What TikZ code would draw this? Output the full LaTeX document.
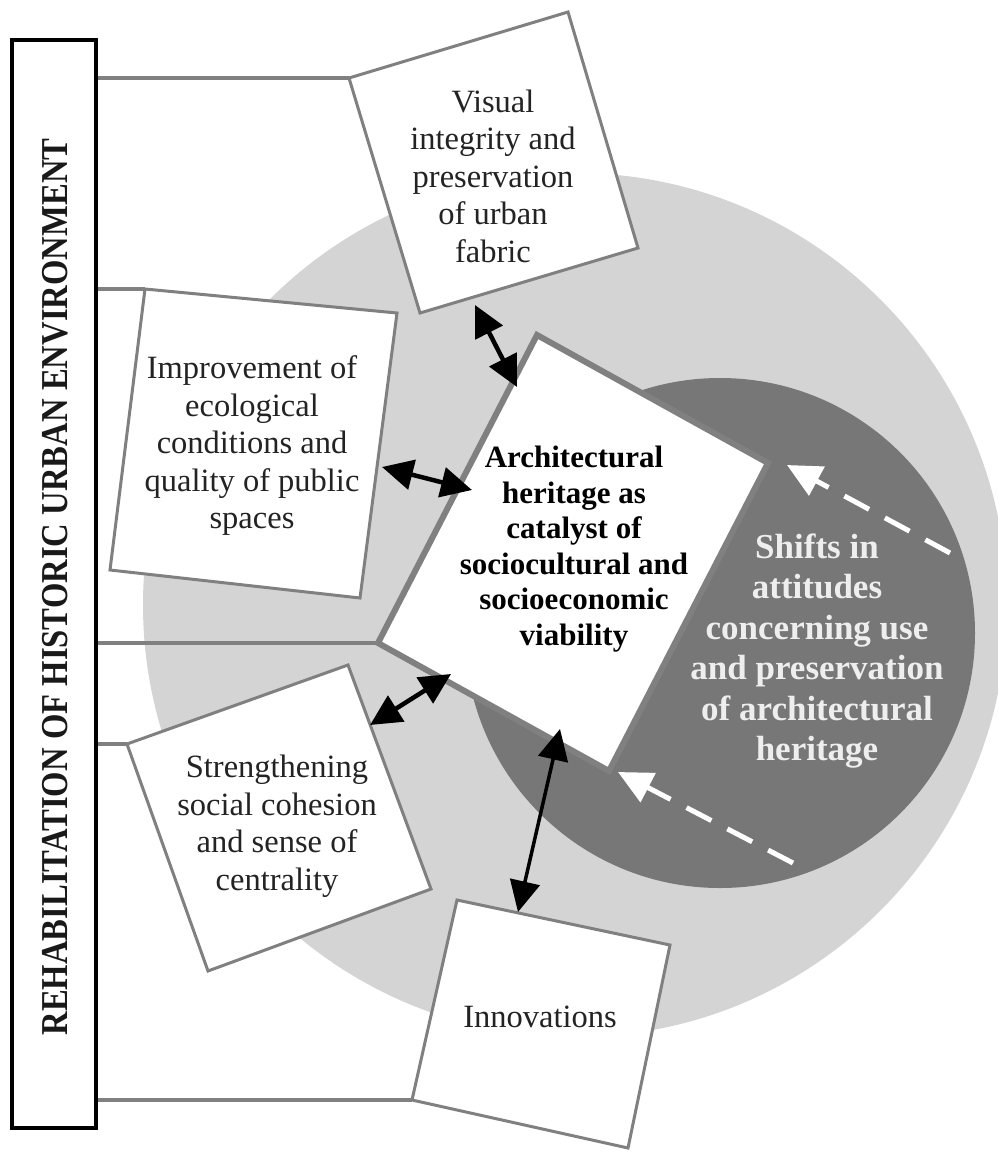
\documentclass[tikz,border=0pt]{standalone}
\usepackage{graphicx}
\usepackage{fontspec}
\setmainfont{Liberation Serif}
\usetikzlibrary{arrows.meta}
\definecolor{lightc}{RGB}{212,212,212}
\definecolor{darkc}{RGB}{119,119,119}
\definecolor{edgec}{RGB}{128,128,128}
\definecolor{txtc}{RGB}{35,35,35}
\definecolor{wtxt}{RGB}{238,238,238}
\begin{document}
\begin{tikzpicture}[x=1pt,y=-1pt,
  boxshape/.style={draw=edgec, line width=3pt, fill=white, line join=miter},
  centshape/.style={draw=edgec, line width=6pt, fill=white, line join=miter},
  bracket/.style={draw=edgec, line width=4pt},
  lbl/.style={font=\fontsize{32.5}{37.5}\selectfont, align=center, text=txtc, inner sep=0pt},
  blbl/.style={font=\bfseries\fontsize{31}{35.6}\selectfont, align=center, text=black, inner sep=0pt},
  wlbl/.style={font=\bfseries\fontsize{35}{40.5}\selectfont, align=center, text=wtxt, inner sep=0pt},
  dbl/.style={line width=4.5pt, black, {Triangle[length=31pt,width=30pt]}-{Triangle[length=31pt,width=30pt]}},
  wdash/.style={white, line width=5pt, dash pattern=on 28pt off 18pt, -{Triangle[length=34pt,width=32pt]}}
]
\useasboundingbox (0,0) rectangle (998,1152);
\clip (0,0) rectangle (998,1152);

% circles
\node[circle, fill=lightc, minimum size=864pt, inner sep=0pt] (outer) at (575,605) {};
\node[circle, fill=darkc, minimum size=510pt, inner sep=0pt] (inner) at (720,633) {};

% left frame
\node[draw=black, line width=3.5pt, fill=white, minimum width=84pt, minimum height=1088pt, inner sep=0pt] (frame) at (54,584) {};
\node[rotate=90, font=\bfseries\fontsize{38}{40}\selectfont, text=black!90, inner sep=0pt] (title) at (55,587) {\scalebox{0.86}[1]{REHABILITATION OF HISTORIC URBAN ENVIRONMENT}};

% box corners
\coordinate (vTL) at (349,78);  \coordinate (vTR) at (568,12);  \coordinate (vBR) at (638,248);  \coordinate (vBL) at (420,313);
\coordinate (iTL) at (145,289); \coordinate (iTR) at (397,313); \coordinate (iBR) at (360,598);  \coordinate (iBL) at (110,570);
\coordinate (sTL) at (127,744); \coordinate (sTR) at (348,665); \coordinate (sBR) at (431,889);  \coordinate (sBL) at (208,971);
\coordinate (nTL) at (457,900); \coordinate (nTR) at (670,945); \coordinate (nBR) at (628,1148); \coordinate (nBL) at (412,1100);
\coordinate (cL) at (378,643);  \coordinate (cT) at (537,335);  \coordinate (cR) at (768,463);   \coordinate (cB) at (609,771);

% bracket lines
\draw[bracket] (frame.east |- vTL) -- (vTL);
\draw[bracket] (frame.east |- iTL) -- (iTL);
\draw[bracket] (frame.east |- cL) -- (cL);
\draw[bracket] (frame.east |- sTL) -- (sTL);
\draw[bracket] (frame.east |- nBL) -- (nBL);

% boxes
\draw[boxshape] (vTL) -- (vTR) -- (vBR) -- (vBL) -- cycle;
\draw[boxshape] (iTL) -- (iTR) -- (iBR) -- (iBL) -- cycle;
\draw[boxshape] (sTL) -- (sTR) -- (sBR) -- (sBL) -- cycle;
\draw[boxshape] (nTL) -- (nTR) -- (nBR) -- (nBL) -- cycle;
\draw[centshape] (cL) -- (cT) -- (cR) -- (cB) -- cycle;

% texts
\node[lbl] (vis) at (493,176) {Visual\\integrity and\\preservation\\of urban\\fabric};
\node[lbl] (imp) at (252,446) {Improvement of\\ecological\\conditions and\\quality of public\\spaces};
\node[lbl] (str) at (277,826) {Strengthening\\social cohesion\\and sense of\\centrality};
\node[lbl] (inn) at (540,1017) {Innovations};
\node[blbl] (cen) at (574,549) {Architectural\\heritage as\\catalyst of\\sociocultural and\\socioeconomic\\viability};
\node[wlbl] (shf) at (817,651) {Shifts in\\attitudes\\concerning use\\and preservation\\of architectural\\heritage};

% arrow end points
\coordinate (a1s) at (475,305); \coordinate (a1e) at (517,387);
\coordinate (a2s) at (382,467); \coordinate (a2e) at (472,490);
\coordinate (a3s) at (370,725); \coordinate (a3e) at (451,674);
\coordinate (a4s) at (560,729); \coordinate (a4e) at (518,912);
\draw[dbl] (a1s) -- (a1e);
\draw[dbl] (a2s) -- (a2e);
\draw[dbl] (a3s) -- (a3e);
\draw[dbl, line width=3.5pt] (a4s) -- (a4e);

% dashed white arrows
\coordinate (d1s) at (950,553); \coordinate (d1e) at (787,465);
\coordinate (d2s) at (793,863); \coordinate (d2e) at (618,772);
\draw[wdash] (d1s) -- (d1e);
\draw[wdash] (d2s) -- (d2e);
\end{tikzpicture}
\end{document}
